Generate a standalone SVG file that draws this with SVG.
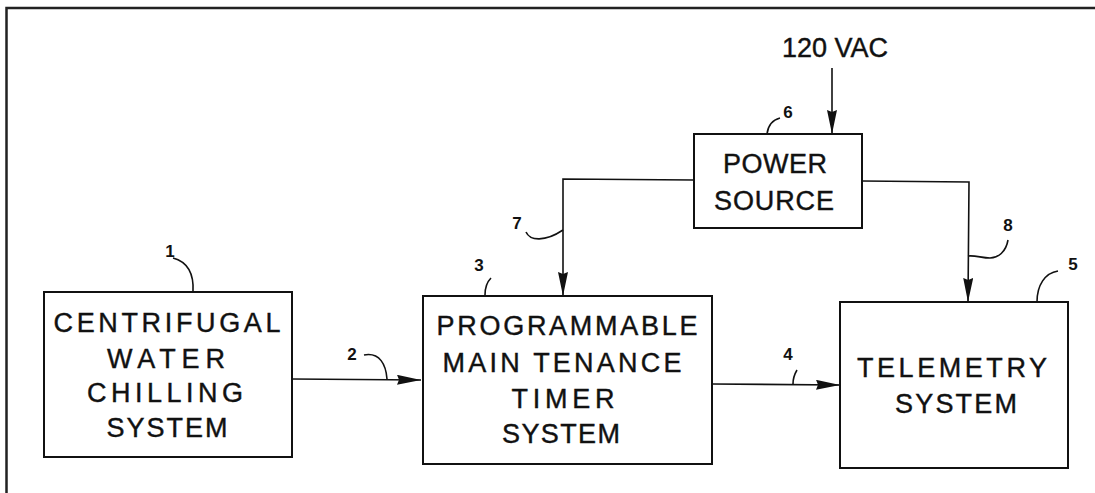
<svg xmlns="http://www.w3.org/2000/svg" width="1095" height="493" viewBox="0 0 1095 493">
<style>
  .frame { fill: none; stroke: #222; stroke-width: 2.5; }
  .box { fill: #fff; stroke: #111; stroke-width: 2; }
  .line { fill: none; stroke: #111; stroke-width: 1.6; }
  .lead { fill: none; stroke: #111; stroke-width: 1.6; }
  .lbl { font-family: "Liberation Sans", Arial, sans-serif; font-size: 27px; fill: #111; stroke: #111; stroke-width: 0.4; text-anchor: middle; }
  .num { font-family: "Liberation Sans", Arial, sans-serif; font-size: 17px; font-weight: bold; fill: #111; text-anchor: middle; }
</style>
<defs>
  <marker id="arr" viewBox="0 0 24 10" refX="24" refY="5" markerWidth="24" markerHeight="10" markerUnits="userSpaceOnUse" orient="auto">
    <path d="M0,0 L24,5 L0,10 L2,5 z" fill="#111"/>
  </marker>
</defs>
<rect x="0" y="0" width="1095" height="493" fill="#fff"/>
<rect class="frame" x="6.5" y="8" width="1200" height="600"/>

<g id="connectors">
  <path class="line" d="M292,379 L421,380" marker-end="url(#arr)"/>
  <path class="line" d="M712,384 L840,385" marker-end="url(#arr)"/>
  <path class="line" d="M832,68 L832,134" marker-end="url(#arr)"/>
  <path class="line" d="M694,180 L563,179 L563,296" marker-end="url(#arr)"/>
  <path class="line" d="M862,181 L969,182 L968,302" marker-end="url(#arr)"/>
</g>

<g id="leaders">
  <path class="lead" d="M173,258 C188,262 194,275 193,292"/>
  <path class="lead" d="M364,355 C380,352 386,365 387,379"/>
  <path class="lead" d="M491,278 C486,283 485,289 485,295"/>
  <path class="lead" d="M797,370 C794,375 793,379 793,384"/>
  <path class="lead" d="M1058,271 C1045,273 1037,285 1037,302"/>
  <path class="lead" d="M780,118 C772,120 768,126 767,134"/>
  <path class="lead" d="M526,232 C530,241 545,242 563,230"/>
  <path class="lead" d="M1008,240 C1006,252 998,258 990,258 C982,258 975,255 968,256"/>
</g>

<g id="node-1">
  <rect class="box" x="44" y="292" width="248" height="165"/>
  <text class="lbl" x="167" y="332" textLength="227" lengthAdjust="spacing">CENTRIFUGAL</text>
  <text class="lbl" x="166" y="368" textLength="118" lengthAdjust="spacing">WATER</text>
  <text class="lbl" x="165" y="402" textLength="156" lengthAdjust="spacing">CHILLING</text>
  <text class="lbl" x="167" y="437" textLength="121" lengthAdjust="spacing">SYSTEM</text>
  <text class="num" x="170" y="257">1</text>
</g>

<g id="node-3">
  <rect class="box" x="423" y="296" width="289" height="168"/>
  <text class="lbl" x="567" y="335" textLength="261" lengthAdjust="spacing">PROGRAMMABLE</text>
  <text class="lbl" x="562" y="372" textLength="239" lengthAdjust="spacing">MAIN TENANCE</text>
  <text class="lbl" x="563" y="408" textLength="103" lengthAdjust="spacing">TIMER</text>
  <text class="lbl" x="561" y="443" textLength="118" lengthAdjust="spacing">SYSTEM</text>
  <text class="num" x="479" y="271">3</text>
</g>

<g id="node-5">
  <rect class="box" x="840" y="302" width="228" height="166"/>
  <text class="lbl" x="952" y="377" textLength="190" lengthAdjust="spacing">TELEMETRY</text>
  <text class="lbl" x="956" y="413" textLength="122" lengthAdjust="spacing">SYSTEM</text>
  <text class="num" x="1073" y="270">5</text>
</g>

<g id="node-6">
  <rect class="box" x="694" y="134" width="168" height="94"/>
  <text class="lbl" x="775" y="173" textLength="104" lengthAdjust="spacing">POWER</text>
  <text class="lbl" x="774" y="210" textLength="120" lengthAdjust="spacing">SOURCE</text>
  <text class="num" x="788" y="118">6</text>
</g>

<g id="input-120vac">
  <text class="lbl" x="835" y="57" textLength="106" lengthAdjust="spacing">120 VAC</text>
</g>

<g id="connector-labels">
  <text class="num" x="352" y="360">2</text>
  <text class="num" x="788" y="360">4</text>
  <text class="num" x="517" y="229">7</text>
  <text class="num" x="1008" y="231">8</text>
</g>
</svg>
